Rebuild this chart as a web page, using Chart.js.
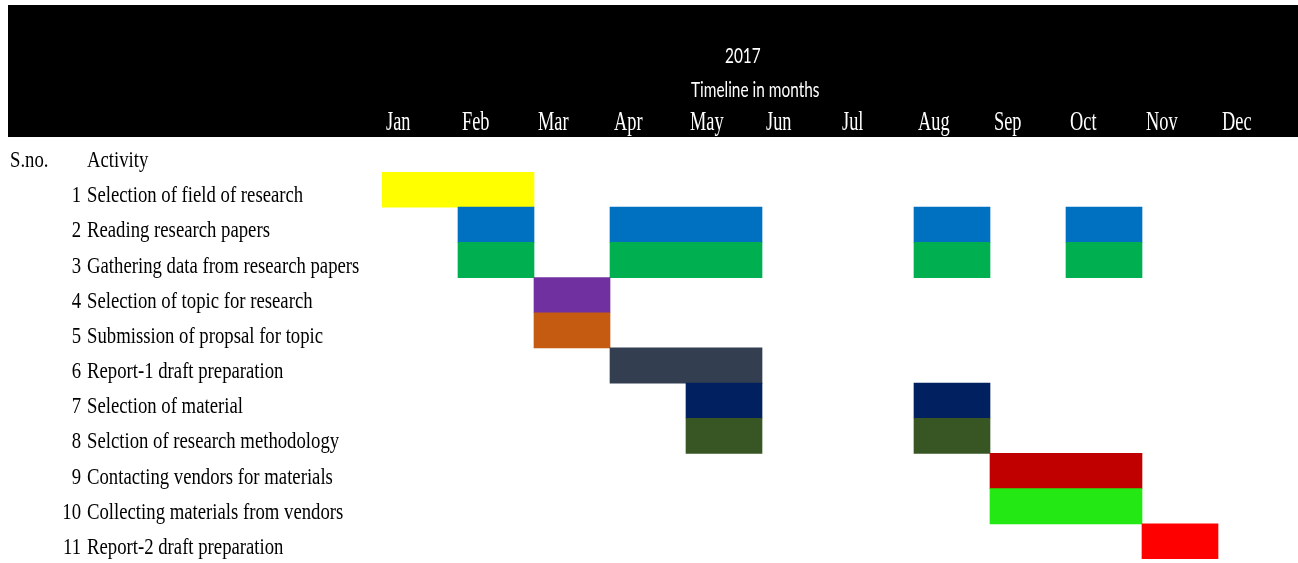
<!DOCTYPE html>
<html>
<head>
<meta charset="utf-8">
<script src="https://cdn.jsdelivr.net/npm/chart.js@4.4.1/dist/chart.umd.min.js"></script>
<style>
  html, body { margin: 0; padding: 0; background: #fff; }
  #wrap { width: 1298px; height: 563px; position: relative; }
</style>
</head>
<body>
<div id="wrap"><canvas id="ganttChart"></canvas></div>
<script>
// dati del grafico
const year = "2017";
const subtitle = "Timeline in months";
const months = ["Jan", "Feb", "Mar", "Apr", "May", "Jun", "Jul", "Aug", "Sep", "Oct", "Nov", "Dec"];
const activities = [
    "Selection of field of research",
    "Reading research papers",
    "Gathering data from research papers",
    "Selection of topic for research",
    "Submission of propsal for topic",
    "Report-1 draft preparation",
    "Selection of material",
    "Selction of research methodology",
    "Contacting vendors for materials",
    "Collecting materials from vendors",
    "Report-2 draft preparation",
];
// mesi: 0 = Jan, fine esclusa
const firstSpan = [[0, 2], [1, 2], [1, 2], [2, 3], [2, 3], [3, 5], [4, 5], [4, 5], [8, 10], [8, 10], [10, 11]];
const secondSpan = [null, [3, 5], [3, 5], null, null, null, [7, 8], [7, 8], null, null, null];
const thirdSpan = [null, [7, 8], [7, 8], null, null, null, null, null, null, null, null];
const fourthSpan = [null, [9, 10], [9, 10], null, null, null, null, null, null, null, null];
const rowColors = [
    "#FFFF00", "#0070C0", "#00B050", "#7030A0", "#C55A11", "#333F50",
    "#002060", "#375623", "#C00000", "#23E813", "#FF0000",
];

// testo schiacciato in orizzontale come nel foglio originale
function squashText(ctx, text, x, y, font, align, sx) {
    ctx.save();
    ctx.font = font;
    ctx.textAlign = align;
    ctx.textBaseline = "alphabetic";
    ctx.translate(x, y);
    ctx.scale(sx, 1);
    ctx.fillText(text, 0, 0);
    ctx.restore();
}

const headerPlugin = {
    id: "headerPlugin",
    beforeDraw(chart) {
        const ctx = chart.ctx;
        ctx.save();
        ctx.fillStyle = "#000000";
        ctx.fillRect(8, 5, 1290, 132);
        ctx.restore();
    },
    afterDraw(chart) {
        const ctx = chart.ctx;
        const x = chart.scales.x;
        const y = chart.scales.y;
        const area = chart.chartArea;
        const rowH = (area.bottom - area.top) / activities.length;

        ctx.save();
        ctx.fillStyle = "#FFFFFF";
        squashText(ctx, year, 725, 63, "22px Lato", "left", 0.7);
        squashText(ctx, subtitle, 691, 97, "22px Lato", "left", 0.7);
        months.forEach((m, i) => {
            squashText(ctx, m, x.getPixelForValue(i) + 4, 130, "27px 'Liberation Serif'", "left", 0.68);
        });

        ctx.fillStyle = "#000000";
        const font = "24px 'Liberation Serif'";
        squashText(ctx, "S.no.", 10, area.top - 5, font, "left", 0.78);
        squashText(ctx, "Activity", 87, area.top - 5, font, "left", 0.78);
        activities.forEach((a, i) => {
            const base = y.getPixelForValue(i) + rowH / 2 - 5;
            squashText(ctx, String(i + 1), 81, base, font, "right", 0.78);
            squashText(ctx, a, 87, base, font, "left", 0.78);
        });
        ctx.restore();
    },
};

function makeSet(name, data) {
    return {
        label: name,
        data: data,
        backgroundColor: rowColors,
        borderWidth: 0,
        barPercentage: 1,
        categoryPercentage: 1,
        grouped: false,
    };
}

const ctx = document.getElementById("ganttChart").getContext("2d");
const myChart = new Chart(ctx, {
    type: "bar",
    data: {
        labels: activities,
        datasets: [
            makeSet("span 1", firstSpan),
            makeSet("span 2", secondSpan),
            makeSet("span 3", thirdSpan),
            makeSet("span 4", fourthSpan),
        ],
    },
    options: {
        indexAxis: "y",
        responsive: true,
        maintainAspectRatio: false,
        animation: false,
        devicePixelRatio: 1,
        layout: {
            padding: { left: 382, right: 4, top: 172, bottom: 4 },
        },
        plugins: {
            legend: { display: false },
            tooltip: { enabled: false },
        },
        scales: {
            x: { type: "linear", min: 0, max: 12, display: false },
            y: { display: false },
        },
    },
    plugins: [headerPlugin],
});
</script>
</body>
</html>
